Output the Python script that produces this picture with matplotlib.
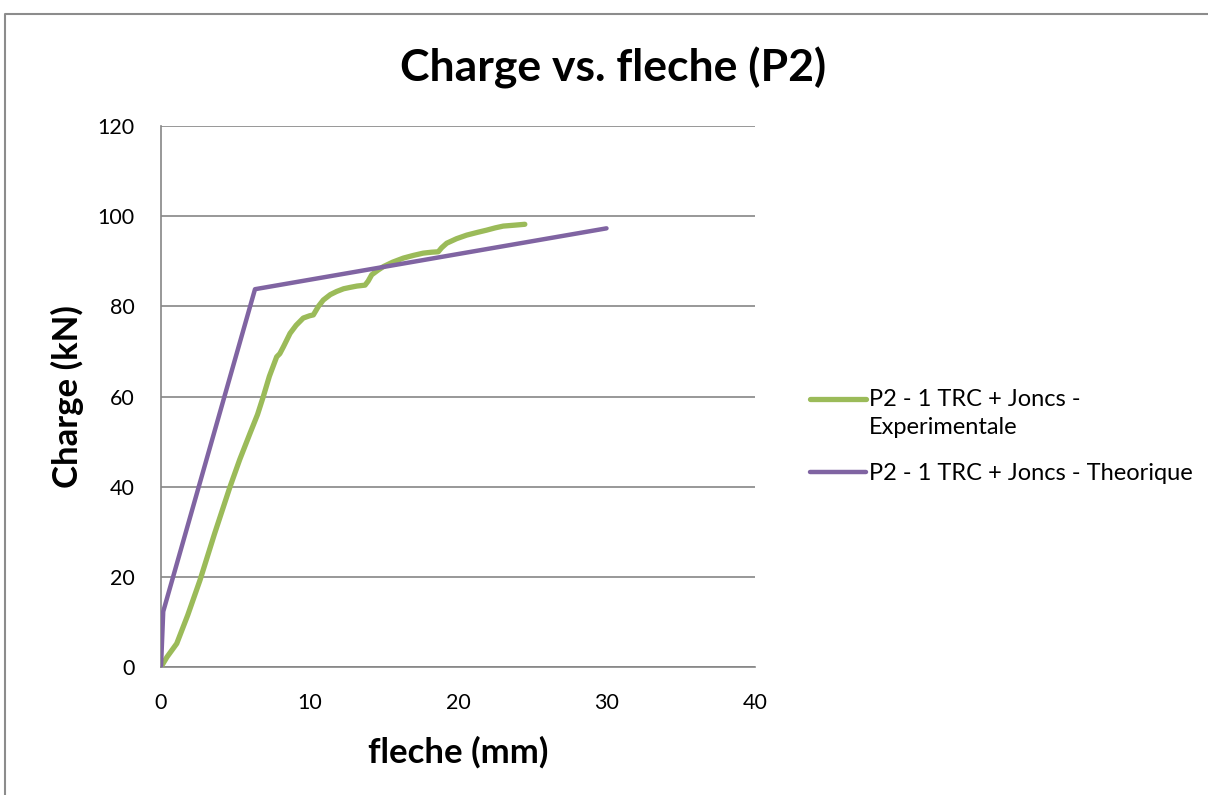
import matplotlib
matplotlib.use("Agg")
import matplotlib.pyplot as plt
from matplotlib.lines import Line2D
from matplotlib.legend_handler import HandlerLine2D

# ── Data ─────────────────────────────────────────────────────────────────────
exp_x = [0.0, 0.4, 1.06, 1.8, 2.63, 3.6, 4.65, 5.3, 5.99, 6.5, 6.89, 7.3,
         7.79, 8.0, 8.24, 8.69, 9.1, 9.58, 10.0, 10.26, 10.6, 10.93, 11.4,
         11.83, 12.3, 12.73, 13.2, 13.74, 13.95, 14.19, 14.6, 14.97, 15.6,
         16.32, 17.0, 17.66, 18.2, 18.67, 18.9, 19.24, 19.9, 20.59, 21.3,
         21.93, 22.5, 23.05, 23.8, 24.5]
exp_y = [0.0, 2.2, 5.2, 11.5, 19.3, 29.5, 40.0, 46.0, 51.8, 56.0, 60.0, 64.5,
         68.8, 69.5, 71.0, 74.0, 75.8, 77.4, 77.9, 78.1, 80.0, 81.4, 82.6,
         83.3, 83.9, 84.2, 84.5, 84.7, 85.6, 87.0, 88.0, 88.8, 89.8,
         90.7, 91.3, 91.8, 92.0, 92.1, 93.0, 94.0, 95.0, 95.8, 96.4,
         96.9, 97.4, 97.8, 98.0, 98.2]

theo_x = [0.0, 0.15, 6.33, 30.0]
theo_y = [0.0, 12.3, 83.8, 97.3]

LBL_EXP = "P2 - 1 TRC + Joncs -\nExperimentale"
LBL_THEO = "P2 - 1 TRC + Joncs - Theorique"

GREEN = "#9BBB59"
PURPLE = "#8064A2"
GRID = "#868686"


class RaisedHandler(HandlerLine2D):
    """Put the legend line next to the first line of a two-line label."""
    def __init__(self, shift, **kw):
        super().__init__(**kw)
        self.shift = shift

    def create_artists(self, legend, orig_handle, xdescent, ydescent,
                       width, height, fontsize, trans):
        return super().create_artists(legend, orig_handle, xdescent,
                                      ydescent - self.shift, width, height,
                                      fontsize, trans)


plt.rcParams["font.family"] = ["Lato", "DejaVu Sans"]

W, H = 1208, 795
fig = plt.figure(figsize=(W / 100, H / 100), dpi=100)
ax = fig.add_axes([161 / W, 1 - 667 / H, (755 - 161) / W, (667 - 126) / H])

l_exp, = ax.plot(exp_x, exp_y, color=GREEN, lw=3.8, solid_capstyle="round",
                 solid_joinstyle="round", label=LBL_EXP, zorder=3)
l_theo, = ax.plot(theo_x, theo_y, color=PURPLE, lw=3.2, solid_capstyle="round",
                  label=LBL_THEO, zorder=4)

ax.set_xlim(0, 40)
ax.set_ylim(0, 120)
ax.set_xticks(range(0, 41, 10))
ax.set_yticks(range(0, 121, 20))
ax.yaxis.grid(True, color=GRID, lw=1.2)
ax.set_axisbelow(True)
for s in ("top", "right"):
    ax.spines[s].set_visible(False)
for s in ("left", "bottom"):
    ax.spines[s].set_color(GRID)
    ax.spines[s].set_linewidth(1.2)
ax.tick_params(axis="both", labelcolor="black", labelsize=15.5, length=0)
ax.tick_params(axis="y", pad=19)
ax.tick_params(axis="x", pad=19)

ax.set_xlabel("fleche (mm)", fontsize=25, fontweight="bold", labelpad=16)
ax.set_ylabel("Charge (kN)", fontsize=25, fontweight="bold", labelpad=10)
fig.text(613 / W, 1 - 68 / H, "Charge vs. fleche (P2)", fontsize=32,
         fontweight="bold", ha="center", va="center")

leg = ax.legend(loc="center left", bbox_to_anchor=(1.093, 0.426), frameon=False,
                fontsize=17, handlelength=2.35, handletextpad=0.15,
                labelspacing=1.05, borderpad=0, borderaxespad=0,
                handler_map={l_exp: RaisedHandler(21)})
leg.get_texts()[0].set_linespacing(1.45)

# chart area border
fig.add_artist(Line2D([4.5 / W, 4.5 / W, 1.0], [0.0, 1 - 13.5 / H, 1 - 13.5 / H],
                      transform=fig.transFigure, color="#8C8C8C", lw=1.5))

fig.savefig("out.png", dpi=100)
